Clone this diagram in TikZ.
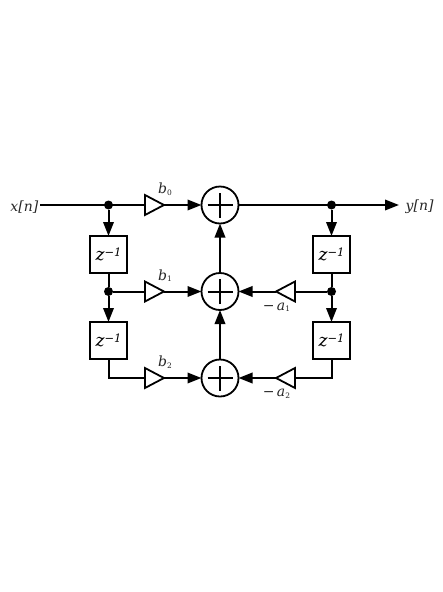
\documentclass[tikz,border=0pt]{standalone}
\usepackage{fontspec}
\setmainfont{DejaVu Serif}
\usetikzlibrary{arrows.meta,shapes.geometric}
\tikzset{
 wire/.style={line width=2pt,draw=black},
 flow/.style={wire,-{Triangle[length=14pt,width=10.5pt]}},
 adder/.style={circle,draw=black,line width=1.8pt,minimum size=37pt,inner sep=0pt,outer sep=0pt,fill=white,
  path picture={\draw[line width=2pt,black] ([xshift=-12.5pt]path picture bounding box.center)--([xshift=12.5pt]path picture bounding box.center)
   ([yshift=-12.5pt]path picture bounding box.center)--([yshift=12.5pt]path picture bounding box.center);}},
 delay/.style={rectangle,draw=black,line width=2pt,minimum size=37pt,inner sep=0pt,outer sep=0pt,fill=white,font=\itshape\fontsize{17}{17}\selectfont},
 gain/.style={isosceles triangle,isosceles triangle stretches,draw=black,line width=1.8pt,minimum width=20pt,minimum height=19pt,inner sep=0pt,outer sep=0pt,fill=white},
 gainR/.style={gain,shape border rotate=0},
 gainL/.style={gain,shape border rotate=180},
 dotn/.style={circle,fill=black,minimum size=9pt,inner sep=0pt,outer sep=0pt},
 lbl/.style={inner sep=0pt,font=\itshape\fontsize{14}{14}\selectfont,text=black!85},
}
\newcommand{\sbs}[2]{#1{\fontsize{7.5}{8}\selectfont\raisebox{-1.5pt}{\upshape #2}}}
\newcommand{\zinv}{z{\fontsize{11.5}{12}\selectfont\raisebox{4.5pt}{−1}}}
\begin{document}
\begin{tikzpicture}[x=1pt,y=-1pt]
\useasboundingbox (0,0) rectangle (443,592);
\node[adder] (s0) at (220,205) {};
\node[adder] (s1) at (220,291.5) {};
\node[adder] (s2) at (220,378) {};
\node[delay] (zl1) at (108.5,254.5) {\zinv};
\node[delay] (zl2) at (108.5,340.5) {\zinv};
\node[delay] (zr1) at (331.5,254.5) {\zinv};
\node[delay] (zr2) at (331.5,340.5) {\zinv};
\node[gainR] (b0) at (151,205) {};
\node[gainR] (b1) at (151,291.5) {};
\node[gainR] (b2) at (151,378) {};
\node[gainL] (a1) at (289,291.5) {};
\node[gainL] (a2) at (289,378) {};
\node[dotn] (d0) at (108.5,205) {};
\node[dotn] (d1) at (108.5,291.5) {};
\node[dotn] (d2) at (331.5,205) {};
\node[dotn] (d3) at (331.5,291.5) {};
\coordinate (cl) at (108.5,378);
\coordinate (cr) at (331.5,378);
\node[lbl,anchor=east] (x) at (38.5,207) {x[n]};
\node[lbl,anchor=west] (y) at (405.5,207) {y[n]};
\coordinate (yend) at (399,205);
\coordinate (xstart) at (40,205);
\node[lbl] (tb0) at (165,189) {\sbs{b}{0}};
\node[lbl] (tb1) at (165,275.5) {\sbs{b}{1}};
\node[lbl] (tb2) at (165,362) {\sbs{b}{2}};
\node[lbl] (ta1) at (276.5,307.5) {\upshape−\,\itshape\sbs{a}{1}};
\node[lbl] (ta2) at (276.5,394) {\upshape−\,\itshape\sbs{a}{2}};
\draw[wire] (xstart)--(b0);
\draw[wire] (zl1)--(d1);
\draw[wire] (d1)--(b1);
\draw[wire] (zl2.south)--(cl)--(b2);
\draw[wire] (zr1)--(d3);
\draw[wire] (zr2.south)--(cr)--(a2);
\draw[wire] (d3)--(a1);
\draw[flow] (d0)--(zl1);
\draw[flow] (d1)--(zl2);
\draw[flow] (d2)--(zr1);
\draw[flow] (d3)--(zr2);
\draw[flow] (b0)--(s0);
\draw[flow] (b1)--(s1);
\draw[flow] (b2)--(s2);
\draw[flow] (a1)--(s1);
\draw[flow] (a2)--(s2);
\draw[flow] (s1)--(s0);
\draw[flow] (s2)--(s1);
\draw[flow] (s0)--(yend);
\end{tikzpicture}
\end{document}
